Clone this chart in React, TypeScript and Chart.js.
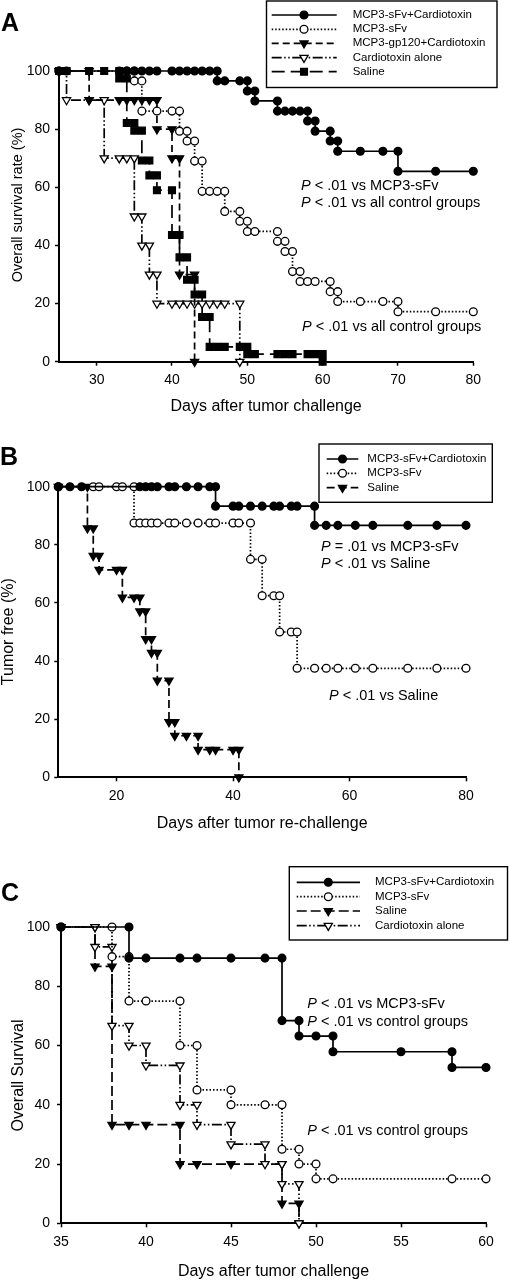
import React, { useEffect, useRef } from 'react';
import { Chart, registerables } from 'chart.js';

Chart.register(...registerables);

const FONT = '"Liberation Sans", Arial, Helvetica, sans-serif';

// ---------------- Panel A data ----------------
const A_X_TICKS = [30, 40, 50, 60, 70, 80];
const A_Y_TICKS = [0, 20, 40, 60, 80, 100];
const A_LABELS = ['MCP3-sFv+Cardiotoxin', 'MCP3-sFv', 'MCP3-gp120+Cardiotoxin', 'Cardiotoxin alone', 'Saline'];
const A_COMBO_DAYS = [25, 26, 33, 34, 35, 36, 37, 38, 40, 41, 42, 43, 44, 45, 46, 46, 47, 49, 50, 50, 51, 51, 54, 54, 55, 56, 57, 58, 58, 59, 59, 61, 61, 62, 62, 65, 68, 70, 70, 75, 80];
const A_COMBO_SURV = [100, 100, 100, 100, 100, 100, 100, 100, 100, 100, 100, 100, 100, 100, 100, 96.6, 96.6, 96.6, 96.6, 93.1, 93.1, 89.7, 89.7, 86.2, 86.2, 86.2, 86.2, 86.2, 82.8, 82.8, 79.3, 79.3, 75.9, 75.9, 72.4, 72.4, 72.4, 72.4, 65.5, 65.5, 65.5];
const A_SFV_DAYS = [25, 34, 35, 35, 36, 36, 38, 40, 41, 41, 42, 42, 43, 43, 44, 44, 45, 46, 47, 47, 49, 49, 50, 50, 51, 54, 54, 55, 55, 56, 56, 57, 57, 58, 59, 61, 61, 62, 62, 65, 68, 70, 70, 75, 80];
const A_SFV_SURV = [100, 100, 100, 96.6, 96.6, 86.2, 86.2, 86.2, 86.2, 79.3, 79.3, 75.9, 75.9, 69.0, 69.0, 58.6, 58.6, 58.6, 58.6, 51.7, 51.7, 48.3, 48.3, 44.8, 44.8, 44.8, 41.4, 41.4, 37.9, 37.9, 31.0, 31.0, 27.6, 27.6, 27.6, 27.6, 24.1, 24.1, 20.7, 20.7, 20.7, 20.7, 17.2, 17.2, 17.2];
const A_GP120_DAYS = [25, 29, 29, 33, 34, 35, 36, 37, 38, 38, 40, 40, 41, 41, 43, 43];
const A_GP120_SURV = [100, 100, 90, 90, 90, 90, 90, 90, 90, 80, 80, 70, 70, 30, 30, 0];
const A_CARDIO_DAYS = [25, 26, 29, 31, 31, 33, 34, 35, 35, 36, 36, 37, 37, 38, 38, 40, 41, 42, 43, 44, 45, 46, 47, 49, 49];
const A_CARDIO_SURV = [100, 90, 90, 90, 70, 70, 70, 70, 50, 50, 40, 40, 30, 30, 20, 20, 20, 20, 20, 20, 20, 20, 20, 20, 0];
const A_SALINE_DAYS = [25, 26, 29, 31, 33, 33, 34, 34, 35, 35, 36, 36, 37, 37, 38, 38, 40, 40, 41, 41, 42, 42, 43, 43, 44, 44, 45, 45, 46, 47, 49, 50, 50, 51, 54, 55, 56, 58, 59, 60, 60];
const A_SALINE_SURV = [100, 100, 100, 100, 100, 97.4, 97.4, 82.1, 82.1, 79.5, 79.5, 69.2, 69.2, 64.1, 64.1, 59.0, 59.0, 43.6, 43.6, 35.9, 35.9, 28.2, 28.2, 23.1, 23.1, 15.4, 15.4, 5.1, 5.1, 5.1, 5.1, 5.1, 2.6, 2.6, 2.6, 2.6, 2.6, 2.6, 2.6, 2.6, 0];
const A_NOTES = [' < .01 vs MCP3-sFv', ' < .01 vs all control groups', ' < .01 vs all control groups'];

// ---------------- Panel B data ----------------
const B_X_TICKS = [20, 40, 60, 80];
const B_Y_TICKS = [0, 20, 40, 60, 80, 100];
const B_LABELS = ['MCP3-sFv+Cardiotoxin', 'MCP3-sFv', 'Saline'];
const B_COMBO_DAYS = [10, 12, 14, 24, 25, 26, 27, 29, 30, 32, 34, 36, 37, 37, 40, 41, 43, 45, 47, 48, 50, 51, 54, 54, 56, 58, 61, 64, 70, 75, 80];
const B_COMBO_SURV = [100, 100, 100, 100, 100, 100, 100, 100, 100, 100, 100, 100, 100, 93.3, 93.3, 93.3, 93.3, 93.3, 93.3, 93.3, 93.3, 93.3, 93.3, 86.7, 86.7, 86.7, 86.7, 86.7, 86.7, 86.7, 86.7];
const B_SFV_DAYS = [10, 16, 17, 20, 21, 23, 23, 24, 25, 26, 27, 29, 30, 32, 34, 36, 37, 40, 41, 43, 43, 45, 45, 47, 48, 48, 50, 51, 51, 54, 56, 58, 61, 64, 70, 75, 80];
const B_SFV_SURV = [100, 100, 100, 100, 100, 100, 87.5, 87.5, 87.5, 87.5, 87.5, 87.5, 87.5, 87.5, 87.5, 87.5, 87.5, 87.5, 87.5, 87.5, 75, 75, 62.5, 62.5, 62.5, 50, 50, 50, 37.5, 37.5, 37.5, 37.5, 37.5, 37.5, 37.5, 37.5, 37.5];
const B_SALINE_DAYS = [10, 15, 15, 16, 16, 17, 17, 20, 21, 21, 23, 24, 24, 25, 25, 26, 26, 27, 27, 29, 29, 30, 30, 32, 34, 34, 36, 37, 40, 41, 41];
const B_SALINE_SURV = [100, 100, 85.7, 85.7, 76.2, 76.2, 71.4, 71.4, 71.4, 61.9, 61.9, 61.9, 57.1, 57.1, 47.6, 47.6, 42.9, 42.9, 33.3, 33.3, 19.0, 19.0, 14.3, 14.3, 14.3, 9.5, 9.5, 9.5, 9.5, 9.5, 0];
const B_NOTES = [' = .01 vs MCP3-sFv', ' < .01 vs Saline', ' < .01 vs Saline'];

// ---------------- Panel C data ----------------
const C_X_TICKS = [35, 40, 45, 50, 55, 60];
const C_Y_TICKS = [0, 20, 40, 60, 80, 100];
const C_LABELS = ['MCP3-sFv+Cardiotoxin', 'MCP3-sFv', 'Saline', 'Cardiotoxin alone'];
const C_COMBO_DAYS = [35, 39, 39, 40, 42, 43, 45, 47, 48, 48, 49, 49, 50, 51, 51, 55, 58, 58, 60];
const C_COMBO_SURV = [100, 100, 89.5, 89.5, 89.5, 89.5, 89.5, 89.5, 89.5, 68.4, 68.4, 63.2, 63.2, 63.2, 57.9, 57.9, 57.9, 52.6, 52.6];
const C_SFV_DAYS = [35, 38, 38, 39, 39, 40, 42, 42, 43, 43, 45, 45, 47, 48, 48, 49, 49, 50, 50, 51, 58, 60];
const C_SFV_SURV = [100, 100, 90, 90, 75, 75, 75, 60, 60, 45, 45, 40, 40, 40, 25, 25, 20, 20, 15, 15, 15, 15];
const C_SALINE_DAYS = [35, 37, 37, 38, 38, 39, 40, 42, 42, 43, 45, 48, 48, 49, 49];
const C_SALINE_SURV = [100, 100, 86.7, 86.7, 33.3, 33.3, 33.3, 33.3, 20, 20, 20, 20, 6.7, 6.7, 0];
const C_CARDIO_DAYS = [35, 37, 37, 38, 38, 39, 39, 40, 40, 42, 42, 43, 43, 45, 45, 47, 47, 48, 48, 49, 49];
const C_CARDIO_SURV = [100, 100, 93.3, 93.3, 66.7, 66.7, 60, 60, 53.3, 53.3, 40, 40, 33.3, 33.3, 26.7, 26.7, 20, 20, 13.3, 13.3, 0];
const C_NOTES = [' < .01 vs MCP3-sFv', ' < .01 vs control groups', ' < .01 vs control groups'];

// ---------------- styles ----------------
type Shape = 'circle' | 'triangle' | 'rect';
interface SeriesDef {
  label: string;
  days: number[];
  surv: number[];
  dash: number[];
  shape: Shape;
  filled: boolean;
  radius: number;
  order: number;
}

const SOLID: number[] = [];
const DOTTED = [1.5, 2];
const DASH_MED = [7, 4];
const DASH_DOT_DOT = [10, 2.5, 1.5, 2.5, 1.5, 2.5];
const DASH_LONG = [13, 6];
const R_CIRCLE = 3.9;
const R_TRI = 4.7;
const R_RECT = 4.8;

interface PanelDef {
  letter: string;
  top: number;
  height: number;
  area: { left: number; top: number; right: number; bottom: number };
  xMin: number;
  xMax: number;
  xTicks: number[];
  yTicks: number[];
  yTickPad: number;
  xTitle: string;
  xTitleY: number;
  yTitle: string;
  yTitleX: number;
  yTitleY: number;
  yTitleSize: number;
  letterX: number;
  letterY: number;
  legend: { x: number; y: number; w: number; h: number; rows: number[]; x1: number; x2: number; mx: number; tx: number; size: number };
  notes: { x: number; y: number; text: string }[];
  series: SeriesDef[];
}

const PANELS: PanelDef[] = [
  {
    letter: 'A', top: 0, height: 420,
    area: { left: 59, top: 71, right: 473.3, bottom: 361.7 },
    xMin: 25, xMax: 80, xTicks: A_X_TICKS, yTicks: A_Y_TICKS, yTickPad: 5,
    xTitle: 'Days after tumor challenge', xTitleY: 407,
    yTitle: 'Overall survival rate (%)', yTitleX: 17.5, yTitleY: 205, yTitleSize: 14.5,
    letterX: 1, letterY: 24,
    legend: { x: 266.5, y: 1, w: 230.5, h: 86.5, rows: [15, 29.3, 43.3, 57.7, 71.7], x1: 271.7, x2: 336.7, mx: 304, tx: 352.7, size: 11.5 },
    notes: [
      { x: 301, y: 186, text: A_NOTES[0] },
      { x: 301, y: 203, text: A_NOTES[1] },
      { x: 302, y: 326.5, text: A_NOTES[2] },
    ],
    series: [
      { label: A_LABELS[0], days: A_COMBO_DAYS, surv: A_COMBO_SURV, dash: SOLID, shape: 'circle', filled: true, radius: R_CIRCLE, order: 0 },
      { label: A_LABELS[1], days: A_SFV_DAYS, surv: A_SFV_SURV, dash: DOTTED, shape: 'circle', filled: false, radius: R_CIRCLE, order: 1 },
      { label: A_LABELS[2], days: A_GP120_DAYS, surv: A_GP120_SURV, dash: DASH_MED, shape: 'triangle', filled: true, radius: R_TRI, order: 2 },
      { label: A_LABELS[3], days: A_CARDIO_DAYS, surv: A_CARDIO_SURV, dash: DASH_DOT_DOT, shape: 'triangle', filled: false, radius: R_TRI, order: 3 },
      { label: A_LABELS[4], days: A_SALINE_DAYS, surv: A_SALINE_SURV, dash: DASH_LONG, shape: 'rect', filled: true, radius: R_RECT, order: 4 },
    ],
  },
  {
    letter: 'B', top: 420, height: 430,
    area: { left: 58.3, top: 66.7, right: 466, bottom: 357.3 },
    xMin: 10, xMax: 80, xTicks: B_X_TICKS, yTicks: B_Y_TICKS, yTickPad: 4.3,
    xTitle: 'Days after tumor re-challenge', xTitleY: 404,
    yTitle: 'Tumor free (%)', yTitleX: 8.5, yTitleY: 211.7, yTitleSize: 16,
    letterX: 0, letterY: 38,
    legend: { x: 319, y: 24, w: 173.3, h: 58.3, rows: [39, 53.3, 67.7], x1: 326.7, x2: 358.3, mx: 342.5, tx: 367.3, size: 11.5 },
    notes: [
      { x: 321, y: 126.7, text: B_NOTES[0] },
      { x: 321, y: 144.3, text: B_NOTES[1] },
      { x: 329, y: 276, text: B_NOTES[2] },
    ],
    series: [
      { label: B_LABELS[0], days: B_COMBO_DAYS, surv: B_COMBO_SURV, dash: SOLID, shape: 'circle', filled: true, radius: R_CIRCLE, order: 0 },
      { label: B_LABELS[1], days: B_SFV_DAYS, surv: B_SFV_SURV, dash: DOTTED, shape: 'circle', filled: false, radius: R_CIRCLE, order: 1 },
      { label: B_LABELS[2], days: B_SALINE_DAYS, surv: B_SALINE_SURV, dash: [8, 4], shape: 'triangle', filled: true, radius: R_TRI, order: 2 },
    ],
  },
  {
    letter: 'C', top: 850, height: 430,
    area: { left: 61, top: 77, right: 486, bottom: 373.3 },
    xMin: 35, xMax: 60, xTicks: C_X_TICKS, yTicks: C_Y_TICKS, yTickPad: 7,
    xTitle: 'Days after tumor challenge', xTitleY: 421.5,
    yTitle: 'Overall Survival', yTitleX: 18.5, yTitleY: 225.5, yTitleSize: 16,
    letterX: 1, letterY: 44,
    legend: { x: 289.3, y: 16.7, w: 218.2, h: 73.3, rows: [32.3, 46.7, 61, 75.7], x1: 296.7, x2: 360, mx: 328.3, tx: 375, size: 11.5 },
    notes: [
      { x: 307.3, y: 154.3, text: C_NOTES[0] },
      { x: 307.3, y: 172.3, text: C_NOTES[1] },
      { x: 307.3, y: 281, text: C_NOTES[2] },
    ],
    series: [
      { label: C_LABELS[0], days: C_COMBO_DAYS, surv: C_COMBO_SURV, dash: SOLID, shape: 'circle', filled: true, radius: R_CIRCLE, order: 0 },
      { label: C_LABELS[1], days: C_SFV_DAYS, surv: C_SFV_SURV, dash: DOTTED, shape: 'circle', filled: false, radius: R_CIRCLE, order: 1 },
      { label: C_LABELS[2], days: C_SALINE_DAYS, surv: C_SALINE_SURV, dash: [10, 4], shape: 'triangle', filled: true, radius: R_TRI, order: 3 },
      { label: C_LABELS[3], days: C_CARDIO_DAYS, surv: C_CARDIO_SURV, dash: DASH_DOT_DOT, shape: 'triangle', filled: false, radius: R_TRI, order: 2 },
    ],
  },
];

function drawMarker(ctx: CanvasRenderingContext2D, s: SeriesDef, x: number, y: number) {
  const r = s.radius;
  ctx.save();
  ctx.setLineDash([]);
  ctx.lineWidth = 1.3;
  ctx.strokeStyle = '#000';
  ctx.fillStyle = s.filled ? '#000' : '#fff';
  ctx.beginPath();
  if (s.shape === 'circle') {
    ctx.arc(x, y, r, 0, Math.PI * 2);
  } else if (s.shape === 'triangle') {
    ctx.moveTo(x, y + r);
    ctx.lineTo(x - 0.866 * r, y - 0.5 * r);
    ctx.lineTo(x + 0.866 * r, y - 0.5 * r);
    ctx.closePath();
  } else {
    const h = r * Math.SQRT1_2;
    ctx.rect(x - h, y - h, 2 * h, 2 * h);
  }
  ctx.fill();
  ctx.stroke();
  ctx.restore();
}

function makeOverlay(p: PanelDef) {
  return {
    id: 'overlay' + p.letter,
    afterDraw(chart: any) {
      const ctx: CanvasRenderingContext2D = chart.ctx;
      const area = chart.chartArea;
      ctx.save();
      ctx.fillStyle = '#000';
      // panel letter
      ctx.font = `bold 25px ${FONT}`;
      ctx.textAlign = 'left';
      ctx.textBaseline = 'middle';
      ctx.fillText(p.letter, p.letterX, p.letterY);
      // x title
      ctx.font = `16px ${FONT}`;
      ctx.textAlign = 'center';
      ctx.fillText(p.xTitle, (area.left + area.right) / 2, p.xTitleY);
      // y title
      ctx.save();
      ctx.translate(p.yTitleX, p.yTitleY);
      ctx.rotate(-Math.PI / 2);
      ctx.font = `${p.yTitleSize}px ${FONT}`;
      ctx.fillText(p.yTitle, 0, 0);
      ctx.restore();
      // notes
      ctx.textAlign = 'left';
      p.notes.forEach((n) => {
        ctx.font = `italic 14.5px ${FONT}`;
        ctx.fillText('P', n.x, n.y);
        const w = ctx.measureText('P').width;
        ctx.font = `14.5px ${FONT}`;
        ctx.fillText(n.text, n.x + w, n.y);
      });
      // legend
      const lg = p.legend;
      ctx.setLineDash([]);
      ctx.lineWidth = 1.4;
      ctx.strokeStyle = '#000';
      ctx.fillStyle = '#fff';
      ctx.fillRect(lg.x, lg.y, lg.w, lg.h);
      ctx.strokeRect(lg.x, lg.y, lg.w, lg.h);
      p.series.forEach((s, i) => {
        const y = lg.rows[i];
        ctx.beginPath();
        ctx.setLineDash(s.dash);
        ctx.lineWidth = 1.7;
        ctx.moveTo(lg.x1, y);
        ctx.lineTo(lg.x2, y);
        ctx.stroke();
        ctx.setLineDash([]);
        drawMarker(ctx, s, lg.mx, y);
        ctx.fillStyle = '#000';
        ctx.font = `${lg.size}px ${FONT}`;
        ctx.textAlign = 'left';
        ctx.textBaseline = 'middle';
        ctx.fillText(s.label, lg.tx, y);
      });
      ctx.restore();
    },
  };
}

function PanelChart({ p }: { p: PanelDef }) {
  const ref = useRef<HTMLCanvasElement>(null);
  useEffect(() => {
    if (!ref.current) return;
    const W = 509;
    const tickStyle = {
      display: true,
      drawOnChartArea: false,
      drawTicks: true,
      tickLength: 4,
      tickWidth: 1.5,
      tickColor: '#000',
      color: '#000',
    };
    const chart = new Chart(ref.current, {
      type: 'line',
      data: {
        datasets: p.series.map((s) => ({
          label: s.label,
          data: s.days.map((d, j) => ({ x: d, y: s.surv[j] })),
          borderColor: '#000',
          borderWidth: 1.7,
          borderDash: s.dash,
          stepped: 'before',
          tension: 0,
          fill: false,
          pointStyle: s.shape,
          pointRadius: s.radius,
          pointRotation: s.shape === 'triangle' ? 180 : 0,
          pointBackgroundColor: s.filled ? '#000' : '#fff',
          pointBorderColor: '#000',
          pointBorderWidth: 1.3,
          clip: false,
          order: s.order,
        })),
      } as any,
      options: {
        responsive: false,
        animation: false,
        events: [],
        layout: { padding: { left: 0, top: p.area.top, right: W - p.area.right, bottom: 0 } },
        plugins: { legend: { display: false }, tooltip: { enabled: false }, title: { display: false } },
        scales: {
          x: {
            type: 'linear',
            min: p.xMin,
            max: p.xMax,
            afterBuildTicks: (sc: any) => { sc.ticks = p.xTicks.map((v) => ({ value: v })); },
            afterFit: (sc: any) => { sc.height = p.height - p.area.bottom; },
            grid: tickStyle,
            border: { display: true, color: '#000', width: 2 },
            ticks: { color: '#000', font: { family: FONT, size: 14 }, padding: 6, maxRotation: 0, autoSkip: false },
          },
          y: {
            type: 'linear',
            min: 0,
            max: 100,
            afterBuildTicks: (sc: any) => { sc.ticks = p.yTicks.map((v) => ({ value: v })); },
            afterFit: (sc: any) => { sc.width = p.area.left; },
            grid: tickStyle,
            border: { display: true, color: '#000', width: 2 },
            ticks: { color: '#000', font: { family: FONT, size: 14 }, padding: p.yTickPad, autoSkip: false },
          },
        },
      } as any,
      plugins: [makeOverlay(p)],
    });
    return () => chart.destroy();
  }, [p]);
  return (
    <canvas
      ref={ref}
      width={509}
      height={p.height}
      style={{ position: 'absolute', left: 0, top: p.top, width: 509, height: p.height, display: 'block' }}
    />
  );
}

export default function App() {
  return (
    <div style={{ position: 'absolute', left: 0, top: 0, width: 509, height: 1280, background: '#fff', overflow: 'hidden' }}>
      {PANELS.map((p) => (
        <PanelChart key={p.letter} p={p} />
      ))}
    </div>
  );
}
